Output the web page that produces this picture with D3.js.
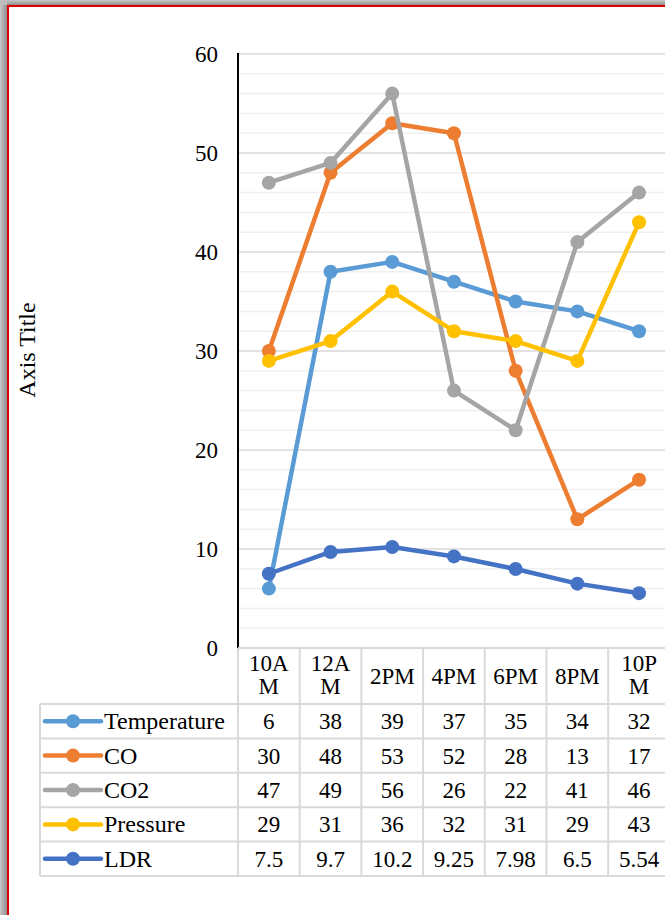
<!DOCTYPE html>
<html>
<head>
<meta charset="utf-8">
<script src="https://cdn.jsdelivr.net/npm/d3@7"></script>
<style>
  html, body { margin: 0; padding: 0; background: #fff; }
  svg { display: block; }
  text { font-family: "Liberation Serif", "Times New Roman", serif; fill: #000; }
</style>
</head>
<body>
<svg id="chart" width="665" height="915"></svg>
<script>
const categories = ["10AM", "12AM", "2PM", "4PM", "6PM", "8PM", "10PM"];
const seriesNames = ["Temperature", "CO", "CO2", "Pressure", "LDR"];
const temperature = [6, 38, 39, 37, 35, 34, 32];
const co = [30, 48, 53, 52, 28, 13, 17];
const co2 = [47, 49, 56, 26, 22, 41, 46];
const pressure = [29, 31, 36, 32, 31, 29, 43];
const ldr = [7.5, 9.7, 10.2, 9.25, 7.98, 6.5, 5.54];
const tableLabels = [
  ["6", "38", "39", "37", "35", "34", "32"],
  ["30", "48", "53", "52", "28", "13", "17"],
  ["47", "49", "56", "26", "22", "41", "46"],
  ["29", "31", "36", "32", "31", "29", "43"],
  ["7.5", "9.7", "10.2", "9.25", "7.98", "6.5", "5.54"]
];
const colors = ["#5B9BD5", "#ED7D31", "#A5A5A5", "#FFC000", "#4472C4"];
const yTicks = [0, 10, 20, 30, 40, 50, 60];
const axisTitle = "Axis Title";

const series = [temperature, co, co2, pressure, ldr].map((v, i) => ({ name: seriesNames[i], values: v, color: colors[i], labels: tableLabels[i] }));

const svg = d3.select("#chart");
const W = 665;

// frame: shadow + red border
const defs = svg.append("defs");
const gl = defs.append("linearGradient").attr("id", "shL").attr("x1", "0").attr("x2", "1").attr("y1", "0").attr("y2", "0");
gl.append("stop").attr("offset", "0").attr("stop-color", "#c8c8c8");
gl.append("stop").attr("offset", "1").attr("stop-color", "#8f8f8f");
const gt = defs.append("linearGradient").attr("id", "shT").attr("x1", "0").attr("x2", "0").attr("y1", "0").attr("y2", "1");
gt.append("stop").attr("offset", "0").attr("stop-color", "#c8c8c8");
gt.append("stop").attr("offset", "1").attr("stop-color", "#8f8f8f");
svg.append("rect").attr("x", 0).attr("y", 0).attr("width", 7).attr("height", 915).attr("fill", "url(#shL)");
svg.append("rect").attr("x", 0).attr("y", 0).attr("width", W).attr("height", 5).attr("fill", "url(#shT)");
svg.append("rect").attr("x", 0).attr("y", 0).attr("width", 7).attr("height", 5).attr("fill", "#bdbdbd");
svg.append("line").attr("x1", 8).attr("x2", 8).attr("y1", 5).attr("y2", 915).attr("stroke", "#e00000").attr("stroke-width", 2);
svg.append("line").attr("x1", 7).attr("x2", W).attr("y1", 6).attr("y2", 6).attr("stroke", "#e00000").attr("stroke-width", 2);

// scales
const plotLeft = 238, plotTop = 54, plotBottom = 648;
const colW = 61.7;
const x = d3.scaleBand().domain(categories).range([plotLeft, plotLeft + colW * categories.length]).padding(0);
const y = d3.scaleLinear().domain([0, 60]).range([plotBottom, plotTop]);
const right = plotLeft + colW * categories.length;

// gridlines
const minor = d3.range(0, 61, 2).filter(v => v % 10 !== 0);
svg.append("g").selectAll("line").data(minor).join("line")
  .attr("x1", plotLeft).attr("x2", right)
  .attr("y1", d => y(d)).attr("y2", d => y(d))
  .attr("stroke", "#f0f0f0").attr("stroke-width", 1.5);
svg.append("g").selectAll("line").data(yTicks.filter(v => v > 0)).join("line")
  .attr("x1", plotLeft).attr("x2", right)
  .attr("y1", d => y(d)).attr("y2", d => y(d))
  .attr("stroke", "#d9d9d9").attr("stroke-width", 1.5);

// y axis via d3
const yAxis = d3.axisLeft(y).tickValues(yTicks).tickSize(0).tickPadding(20);
const gy = svg.append("g").attr("transform", `translate(${plotLeft},0)`).call(yAxis);
gy.select(".domain").remove();
gy.selectAll("text").attr("font-size", 23).style("font-family", '"Liberation Serif", serif').attr("dy", "0.32em").attr("fill", "#000");
svg.append("line").attr("x1", plotLeft).attr("x2", plotLeft).attr("y1", plotTop - 1).attr("y2", plotBottom)
  .attr("stroke", "#000").attr("stroke-width", 2);

// axis title
svg.append("text").attr("transform", `translate(35,350) rotate(-90)`)
  .attr("text-anchor", "middle").attr("font-size", 24).text(axisTitle);

// lines
const cx = d => x(d) + x.bandwidth() / 2;
const lineGen = d3.line().x((d, i) => cx(categories[i])).y(d => y(d));
series.forEach(s => {
  const g = svg.append("g");
  g.append("path").attr("d", lineGen(s.values)).attr("fill", "none")
    .attr("stroke", s.color).attr("stroke-width", 4.5).attr("stroke-linejoin", "round").attr("stroke-linecap", "round");
  g.selectAll("circle").data(s.values).join("circle")
    .attr("cx", (d, i) => cx(categories[i])).attr("cy", d => y(d)).attr("r", 7).attr("fill", s.color);
});

// data table
const headerTop = 648, headerBottom = 704, rowH = 34.4, tableLeft = 40;
const rowY = i => headerBottom + i * rowH;
const tableBottom = rowY(series.length);
const tg = svg.append("g");
const gridColor = "#d9d9d9";
tg.append("line").attr("x1", plotLeft).attr("x2", right).attr("y1", headerTop).attr("y2", headerTop).attr("stroke", gridColor).attr("stroke-width", 2);
tg.selectAll("line.h").data(d3.range(series.length + 1)).join("line").attr("class", "h")
  .attr("x1", tableLeft).attr("x2", right).attr("y1", i => rowY(i)).attr("y2", i => rowY(i))
  .attr("stroke", gridColor).attr("stroke-width", 2);
tg.append("line").attr("x1", tableLeft).attr("x2", tableLeft).attr("y1", headerBottom).attr("y2", tableBottom).attr("stroke", gridColor).attr("stroke-width", 2);
tg.selectAll("line.v").data(categories).join("line").attr("class", "v")
  .attr("x1", d => x(d) + x.bandwidth()).attr("x2", d => x(d) + x.bandwidth())
  .attr("y1", headerTop).attr("y2", tableBottom).attr("stroke", gridColor).attr("stroke-width", 2);
tg.append("line").attr("x1", plotLeft).attr("x2", plotLeft).attr("y1", headerTop).attr("y2", tableBottom).attr("stroke", gridColor).attr("stroke-width", 2);

// header labels (wrapped)
categories.forEach(c => {
  const lines = c.length > 3 ? [c.slice(0, 3), c.slice(3)] : [c];
  const t = tg.append("text").attr("text-anchor", "middle").attr("font-size", 23);
  if (lines.length === 2) {
    t.append("tspan").attr("x", cx(c)).attr("y", 671).text(lines[0]);
    t.append("tspan").attr("x", cx(c)).attr("y", 694).text(lines[1]);
  } else {
    t.append("tspan").attr("x", cx(c)).attr("y", 684).text(lines[0]);
  }
});

// rows
series.forEach((s, i) => {
  const mid = rowY(i) + rowH / 2;
  tg.append("line").attr("x1", 45).attr("x2", 101).attr("y1", mid).attr("y2", mid)
    .attr("stroke", s.color).attr("stroke-width", 4.5).attr("stroke-linecap", "round");
  tg.append("circle").attr("cx", 73).attr("cy", mid).attr("r", 7).attr("fill", s.color);
  tg.append("text").attr("x", 104).attr("y", mid + 8).attr("font-size", 24).text(s.name);
  s.labels.forEach((l, j) => {
    tg.append("text").attr("x", cx(categories[j])).attr("y", mid + 8).attr("text-anchor", "middle")
      .attr("font-size", 23).text(l);
  });
});
</script>
</body>
</html>
